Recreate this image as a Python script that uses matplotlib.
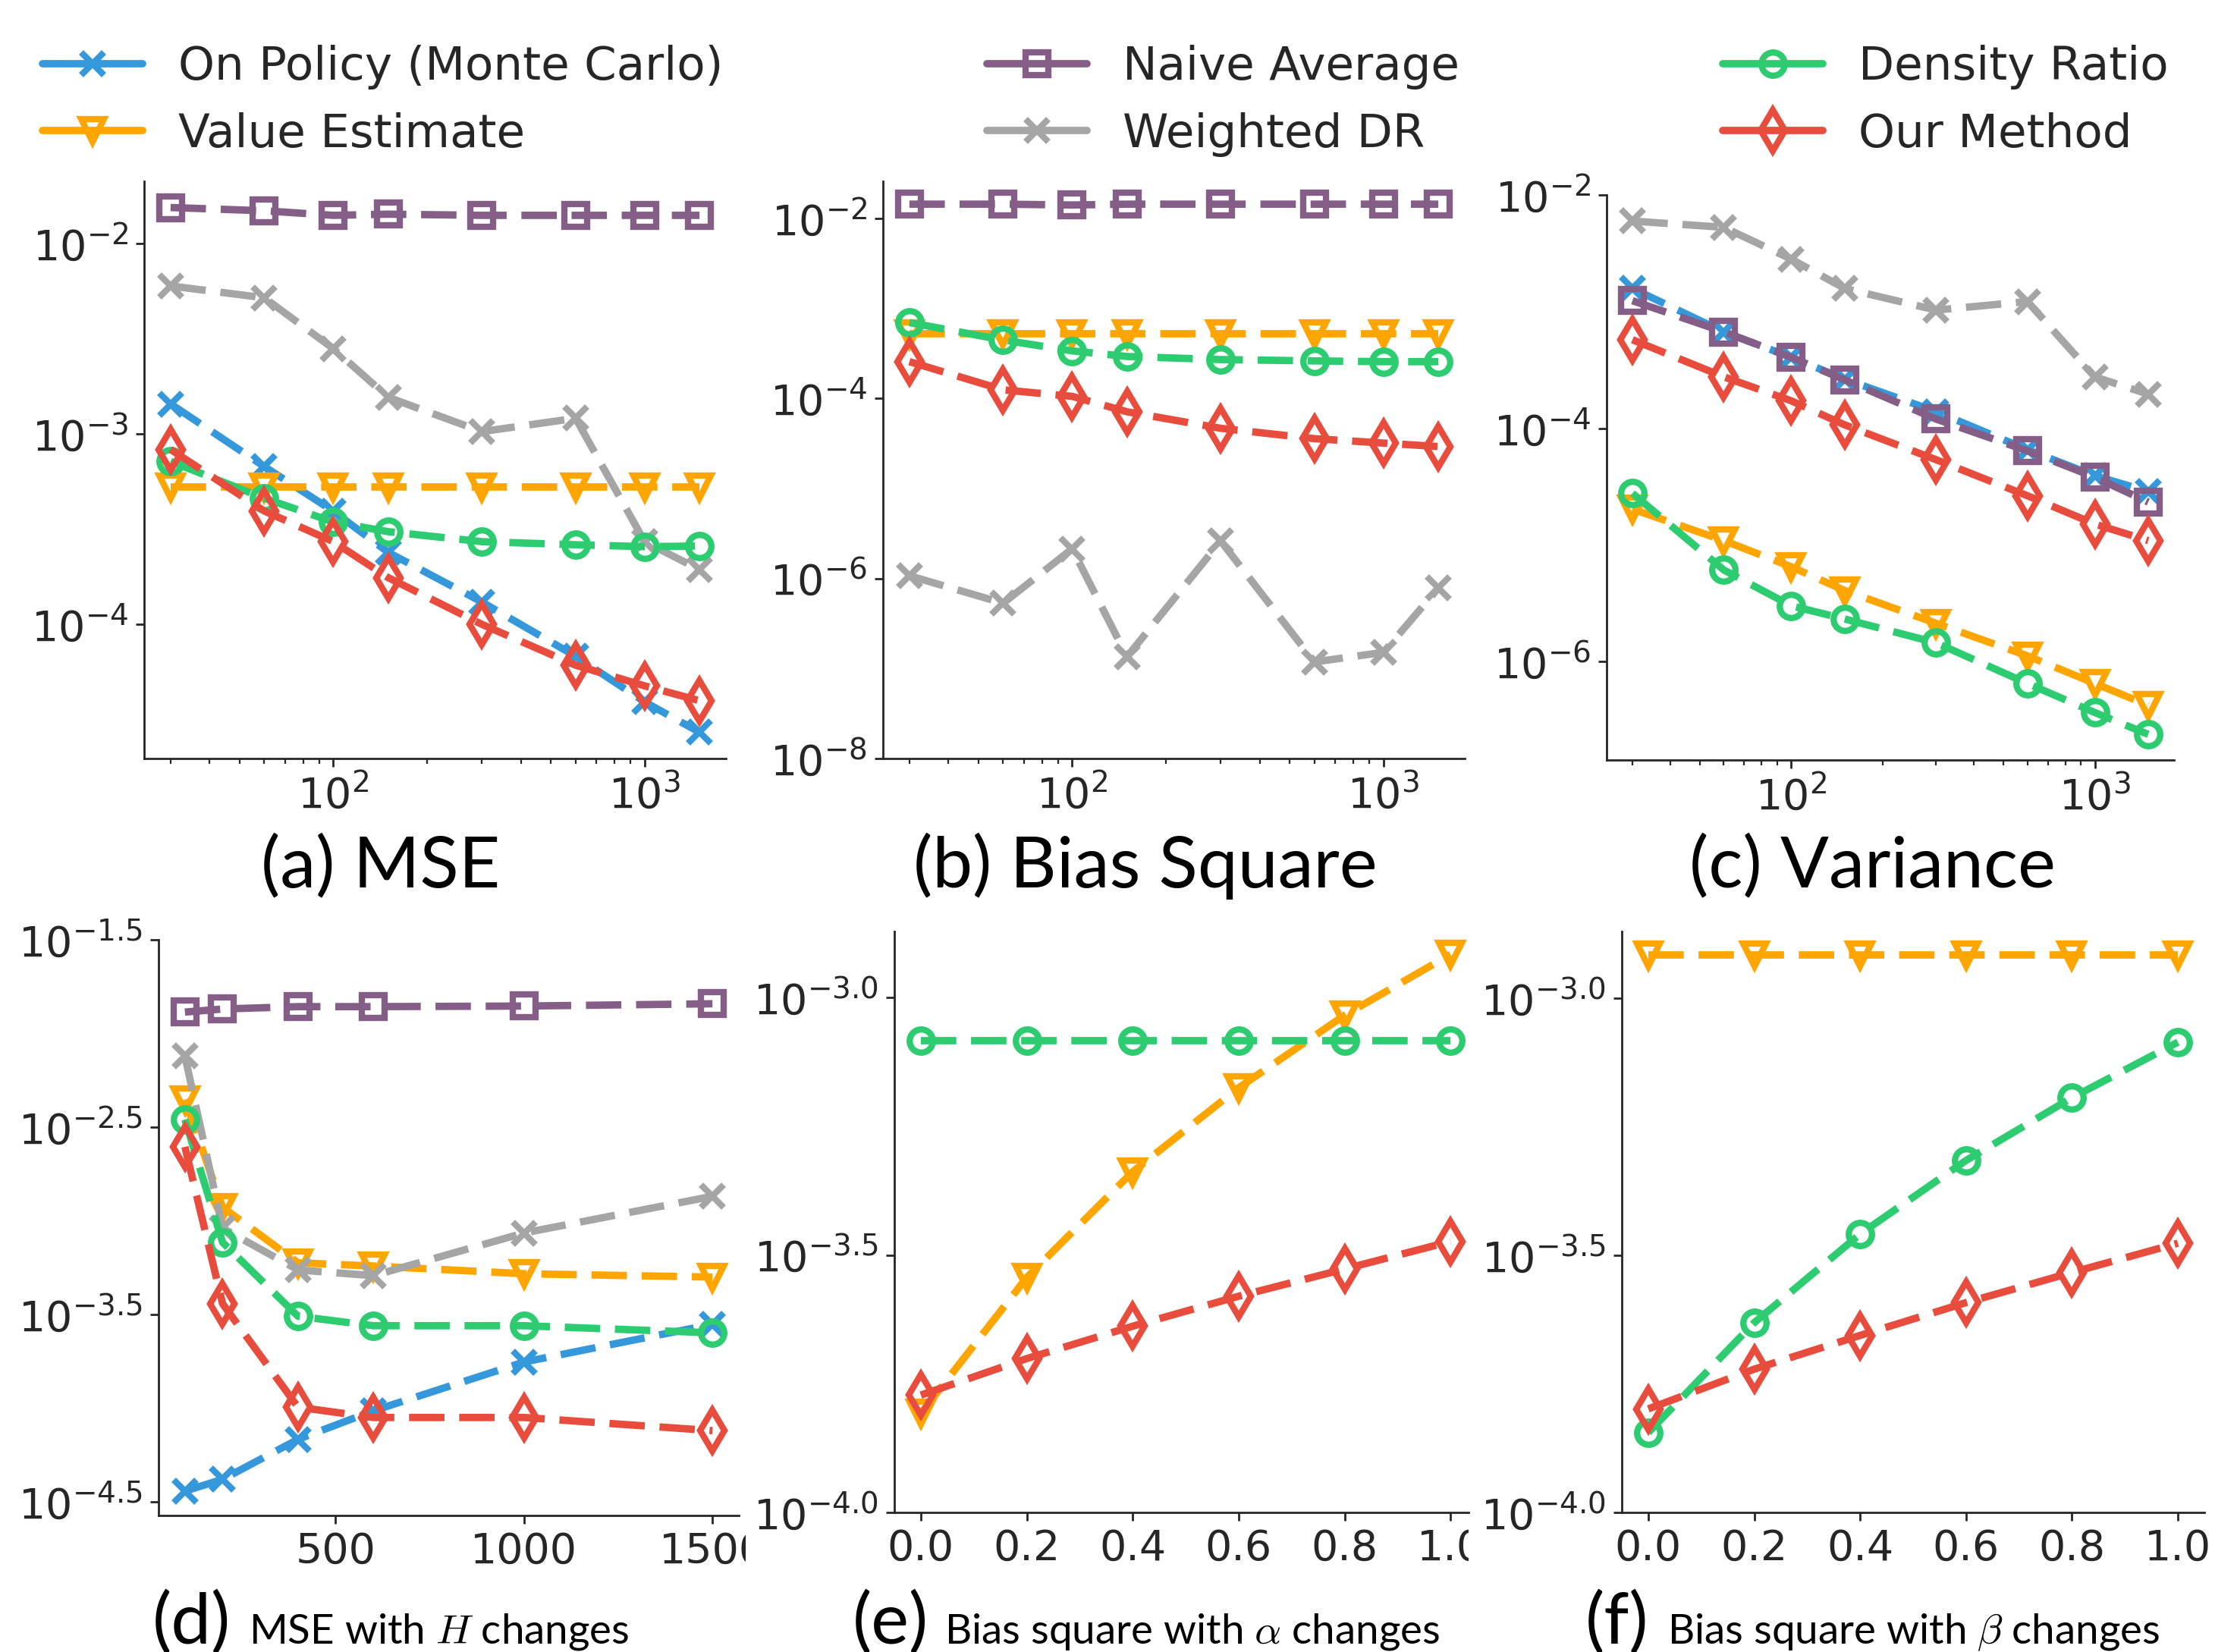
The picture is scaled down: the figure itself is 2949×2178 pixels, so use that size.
import matplotlib
matplotlib.use("Agg")
import matplotlib.pyplot as plt
from matplotlib.lines import Line2D
from matplotlib.ticker import FixedLocator, FixedFormatter, NullLocator
from matplotlib.transforms import Bbox, TransformedBbox

# ---- data ----
n_samples = [30, 60, 100, 150, 300, 600, 1000, 1500]
horizon = [100, 200, 400, 600, 1000, 1500]
alpha = [0.0, 0.2, 0.4, 0.6, 0.8, 1.0]
beta = [0.0, 0.2, 0.4, 0.6, 0.8, 1.0]

# (a) MSE
mse_onpolicy = [1.44e-3, 6.75e-4, 3.93e-4, 2.39e-4, 1.31e-4, 6.8e-5, 3.91e-5, 2.71e-5]
mse_value = [5.25e-4, 5.25e-4, 5.25e-4, 5.25e-4, 5.25e-4, 5.25e-4, 5.25e-4, 5.25e-4]
mse_naive = [1.55e-2, 1.49e-2, 1.41e-2, 1.43e-2, 1.41e-2, 1.41e-2, 1.41e-2, 1.41e-2]
mse_wdr = [6.0e-3, 5.2e-3, 2.81e-3, 1.56e-3, 1.03e-3, 1.21e-3, 2.72e-4, 1.94e-4]
mse_ratio = [7.18e-4, 4.6e-4, 3.45e-4, 3.07e-4, 2.72e-4, 2.62e-4, 2.56e-4, 2.58e-4]
mse_ours = [8.3e-4, 3.94e-4, 2.72e-4, 1.76e-4, 1.0e-4, 6.1e-5, 4.75e-5, 3.97e-5]

# (b) bias square
bias_value = [5.25e-4, 5.25e-4, 5.25e-4, 5.25e-4, 5.25e-4, 5.25e-4, 5.25e-4, 5.25e-4]
bias_naive = [1.43e-2, 1.43e-2, 1.40e-2, 1.43e-2, 1.43e-2, 1.43e-2, 1.43e-2, 1.43e-2]
bias_wdr = [1.07e-6, 5.3e-7, 2.13e-6, 1.35e-7, 2.6e-6, 1.18e-7, 1.51e-7, 7.8e-7]
bias_ratio = [6.93e-4, 4.43e-4, 3.36e-4, 2.91e-4, 2.69e-4, 2.60e-4, 2.55e-4, 2.55e-4]
bias_ours = [2.55e-4, 1.24e-4, 1.05e-4, 7.08e-5, 4.64e-5, 3.56e-5, 3.18e-5, 2.91e-5]

# (c) variance
var_onpolicy = [1.58e-3, 6.7e-4, 4.06e-4, 2.64e-4, 1.39e-4, 6.56e-5, 3.92e-5, 2.87e-5]
var_value = [2.03e-5, 1.09e-5, 6.5e-6, 4.07e-6, 2.13e-6, 1.12e-6, 6.5e-7, 4.23e-7]
var_naive = [1.24e-3, 6.7e-4, 4.06e-4, 2.6e-4, 1.2e-4, 6.4e-5, 3.81e-5, 2.33e-5]
var_wdr = [5.97e-3, 5.28e-3, 2.82e-3, 1.58e-3, 1.03e-3, 1.22e-3, 2.76e-4, 1.96e-4]
var_ratio = [2.77e-5, 6.1e-6, 3.01e-6, 2.32e-6, 1.45e-6, 6.5e-7, 3.66e-7, 2.38e-7]
var_ours = [5.74e-4, 2.76e-4, 1.72e-4, 1.07e-4, 5.38e-5, 2.64e-5, 1.51e-5, 1.09e-5]

# (d) MSE vs horizon H
h_onpolicy = [3.6e-5, 4.16e-5, 6.8e-5, 9.66e-5, 1.76e-4, 2.8e-4]
h_value = [4.43e-3, 1.18e-3, 5.96e-4, 5.73e-4, 5.21e-4, 5.0e-4]
h_naive = [1.30e-2, 1.35e-2, 1.39e-2, 1.39e-2, 1.40e-2, 1.44e-2]
h_wdr = [7.57e-3, 9.12e-4, 5.46e-4, 5.09e-4, 8.6e-4, 1.35e-3]
h_ratio = [3.47e-3, 7.66e-4, 3.09e-4, 2.75e-4, 2.75e-4, 2.52e-4]
h_ours = [2.48e-3, 3.6e-4, 1.01e-4, 8.9e-5, 8.9e-5, 7.57e-5]

# (e) bias square vs alpha
alpha_value = [1.557e-4, 2.86e-4, 4.59e-4, 6.68e-4, 9.24e-4, 1.213e-3]
alpha_ratio = [8.26e-4, 8.26e-4, 8.26e-4, 8.26e-4, 8.26e-4, 8.26e-4]
alpha_ours = [1.69e-4, 1.99e-4, 2.3e-4, 2.63e-4, 2.97e-4, 3.36e-4]

# (f) bias square vs beta
beta_value = [1.213e-3, 1.213e-3, 1.213e-3, 1.213e-3, 1.213e-3, 1.213e-3]
beta_ratio = [1.43e-4, 2.34e-4, 3.48e-4, 4.84e-4, 6.41e-4, 8.22e-4]
beta_ours = [1.59e-4, 1.90e-4, 2.21e-4, 2.56e-4, 2.93e-4, 3.34e-4]

# ---- styles ----
STYLE = {
    "onpolicy": ("On Policy (Monte Carlo)", "#3498db", "x", 11),
    "value": ("Value Estimate", "#ffa500", "v", 11),
    "naive": ("Naive Average", "#845e87", "s", 11),
    "wdr": ("Weighted DR", "#a5a5a5", "x", 11),
    "ratio": ("Density Ratio", "#2ecc71", "o", 11),
    "ours": ("Our Method", "#e74c3c", "d", 14),
}
W, H, DPI = 2949, 2178, 200
INK = "#262626"


def add_axes_px(fig, left, top, right, bottom):
    return fig.add_axes([left / W, 1 - bottom / H, (right - left) / W, (bottom - top) / H])


def draw(ax, x, y, key):
    _, color, marker, ms = STYLE[key]
    ax.plot(x, y, color=color, marker=marker, ms=ms, mew=3, mfc="none",
            lw=3.5, dashes=(4.8, 2.0))


def style_axes(ax, labelsize):
    ax.spines[["top", "right"]].set_visible(False)
    for s in ["left", "bottom"]:
        ax.spines[s].set_color(INK)
        ax.spines[s].set_linewidth(1.0)
    ax.tick_params(which="major", length=4, width=1, color=INK,
                   labelsize=labelsize, labelcolor=INK)
    ax.tick_params(which="minor", length=2.5, width=0.8, color=INK)


def half_decade_ticks(ax, exps):
    ax.yaxis.set_major_locator(FixedLocator([10 ** e for e in exps]))
    ax.yaxis.set_major_formatter(FixedFormatter([rf"$10^{{{e:.1f}}}$" for e in exps]))
    ax.yaxis.set_minor_locator(NullLocator())


def clip_xlabels_right(ax, pad=0.0):
    box = TransformedBbox(Bbox([[-1, -2], [1 + pad, 2]]), ax.transAxes)
    for lab in ax.get_xticklabels():
        lab.set_clip_on(True)
        lab.set_clip_box(box)


def main():
    fig = plt.figure(figsize=(W / DPI, H / DPI), dpi=DPI)

    # top row
    ax_a = add_axes_px(fig, 190, 239, 957, 1000)
    ax_b = add_axes_px(fig, 1164, 239, 1931, 1000)
    ax_c = add_axes_px(fig, 2118, 257, 2866, 1002)

    for key, y in [("onpolicy", mse_onpolicy), ("value", mse_value), ("naive", mse_naive),
                   ("wdr", mse_wdr), ("ratio", mse_ratio), ("ours", mse_ours)]:
        draw(ax_a, n_samples, y, key)
    for key, y in [("value", bias_value), ("naive", bias_naive), ("wdr", bias_wdr),
                   ("ratio", bias_ratio), ("ours", bias_ours)]:
        draw(ax_b, n_samples, y, key)
    for key, y in [("onpolicy", var_onpolicy), ("value", var_value), ("naive", var_naive),
                   ("wdr", var_wdr), ("ratio", var_ratio), ("ours", var_ours)]:
        draw(ax_c, n_samples, y, key)

    for ax, yt in [(ax_a, [1e-2, 1e-3, 1e-4]), (ax_b, [1e-2, 1e-4, 1e-6, 1e-8]),
                   (ax_c, [1e-2, 1e-4, 1e-6])]:
        ax.set_xscale("log")
        ax.set_yscale("log")
        ax.set_yticks(yt)
        ax.yaxis.set_minor_locator(NullLocator())
        ax.set_xticks([1e2, 1e3])
        style_axes(ax, 20)
    ax_b.set_ylim(bottom=1e-8)

    # bottom row
    ax_d = add_axes_px(fig, 209, 1239, 974, 1998)
    ax_e = add_axes_px(fig, 1179, 1228, 1936, 1994)
    ax_f = add_axes_px(fig, 2138, 1228, 2906, 1994)

    for key, y in [("onpolicy", h_onpolicy), ("value", h_value), ("naive", h_naive),
                   ("wdr", h_wdr), ("ratio", h_ratio), ("ours", h_ours)]:
        draw(ax_d, horizon, y, key)
    for key, y in [("value", alpha_value), ("ratio", alpha_ratio), ("ours", alpha_ours)]:
        draw(ax_e, alpha, y, key)
    for key, y in [("value", beta_value), ("ratio", beta_ratio), ("ours", beta_ours)]:
        draw(ax_f, beta, y, key)

    for ax in (ax_d, ax_e, ax_f):
        ax.set_yscale("log")
        style_axes(ax, 20)
    ax_d.set_ylim(top=10 ** -1.5)
    half_decade_ticks(ax_d, [-1.5, -2.5, -3.5, -4.5])
    ax_d.set_xticks([500, 1000, 1500])
    for ax in (ax_e, ax_f):
        ax.set_ylim(bottom=1e-4)
        half_decade_ticks(ax, [-3.0, -3.5, -4.0])
        ax.set_xticks(alpha)
        ax.set_xticklabels([f"{a:.1f}" for a in alpha])
    ax_e.set_xlim(right=1.034)
    clip_xlabels_right(ax_d, pad=0.012)
    clip_xlabels_right(ax_e)

    # captions
    cap = dict(family="Lato", color="black", va="baseline")
    fig.text(502 / W, 1 - 1170 / H, "(a) MSE", ha="center", fontsize=34, **cap)
    fig.text(1510 / W, 1 - 1170 / H, "(b) Bias Square", ha="center", fontsize=34, **cap)
    fig.text(2468 / W, 1 - 1170 / H, "(c) Variance", ha="center", fontsize=34, **cap)
    yb = 1 - 2167 / H
    for xl, xt, lab, txt in [(201, 328, "(d)", r"MSE with $H$ changes"),
                             (1124, 1245, "(e)", r"Bias square with $\alpha$ changes"),
                             (2090, 2198, "(f)", r"Bias square with $\beta$ changes")]:
        fig.text(xl / W, yb, lab, ha="left", fontsize=34, **cap)
        fig.text(xt / W, yb, txt, ha="left", fontsize=19.7, math_fontfamily="cm", **cap)

    # legend
    order = ["onpolicy", "value", "naive", "wdr", "ratio", "ours"]
    handles = []
    for key in order:
        label, color, marker, ms = STYLE[key]
        handles.append(Line2D([], [], color=color, marker=marker, ms=ms, mew=3, mfc="none",
                              lw=3.5, solid_capstyle="round", label=label))
    fig.legend(handles=handles, loc="center", ncol=3, mode="expand",
               bbox_to_anchor=(56 / W, 1 - 133 / H, (2859 - 56) / W, 0),
               frameon=False, fontsize=22, borderpad=0, borderaxespad=0,
               handlelength=2.16, handletextpad=0.77, labelspacing=0.48,
               labelcolor=INK)

    fig.savefig("out.png", dpi=DPI)


if __name__ == "__main__":
    main()
